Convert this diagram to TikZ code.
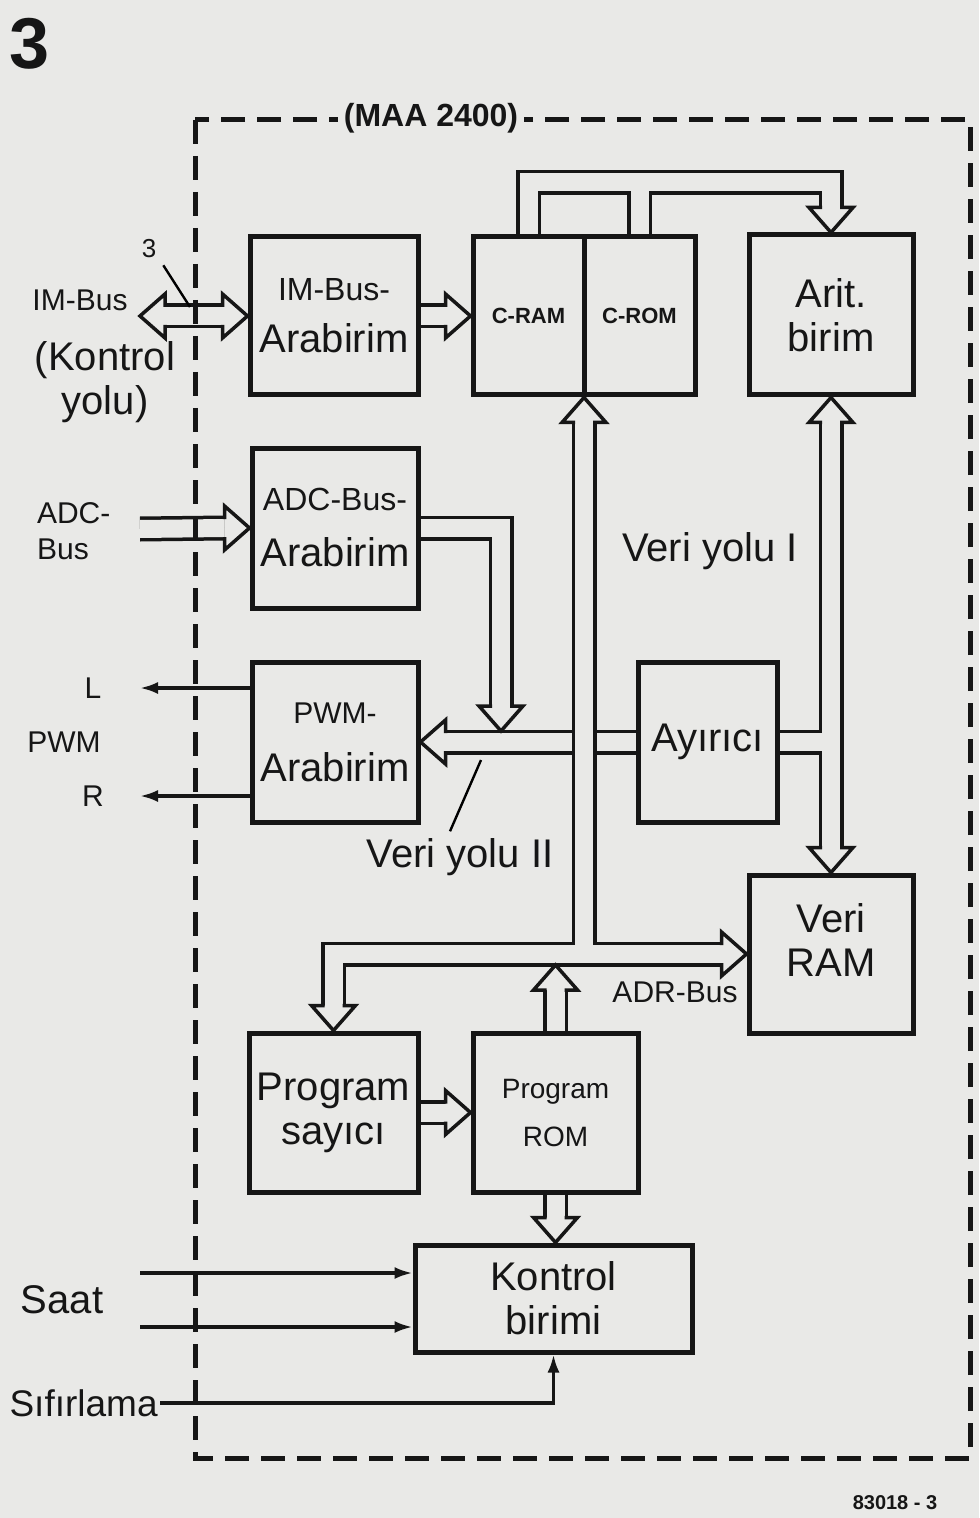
\documentclass[tikz,border=0pt]{standalone}
\usepackage{fontspec}
\setmainfont{Liberation Sans}
\usetikzlibrary{arrows.meta, calc, math}

\pgfdeclarelayer{back}
\pgfdeclarelayer{bus}
\pgfsetlayers{back,bus,main}

\definecolor{paper}{RGB}{233,233,231}
\definecolor{ink}{RGB}{22,22,22}

% double line bus: black outer, paper core
\newcommand{\bus}[1]{\draw[busout] #1; \draw[busin] #1;}

\tikzset{
  blok/.style={draw=ink, line width=2.5pt, align=center, inner sep=0pt},
  busout/.style={draw=ink, line width=12.5pt},
  busin/.style={draw=paper, line width=9pt},
  busline/.style={draw=ink, line width=1.75pt, line join=miter},
  bushead/.pic={
    \fill[paper] (0,0) -- (-25,22) -- (-25,-22) -- cycle;
    \draw[busline] (-25,9) -- (-25,22) -- (0,0) -- (-25,-22) -- (-25,-9);
  },
  sig/.style={draw=ink, line width=1.6pt, -{Latex[length=9pt, width=6pt]}},
  frame/.style={draw=ink, line width=2.5pt, dash pattern=on 12pt off 6pt},
  small/.style={font=\fontsize{15}{18}\selectfont},
}

\begin{document}
\begin{tikzpicture}[x=0.5pt, y=-0.5pt, font=\fontsize{20}{22}\selectfont, text=ink]
\useasboundingbox (0,0) rectangle (979,1518);
\begin{pgfonlayer}{back}
\fill[paper] (0,0) rectangle (979,1518);
\end{pgfonlayer}

% blocks
\node[blok, minimum width=84pt, minimum height=79pt] (imbus) at (334,316)
  {{\fontsize{16}{18}\selectfont IM-Bus-}\\[4pt]Arabirim};
\node[blok, minimum width=55.5pt, minimum height=79pt,
  font=\bfseries\fontsize{11}{13}\selectfont] (cram) at (528.5,316) {C-RAM};
\node[blok, minimum width=55.5pt, minimum height=79pt,
  font=\bfseries\fontsize{11}{13}\selectfont] (crom) at (639.5,316) {C-ROM};
\node[blok, minimum width=82pt, minimum height=80pt] (arit) at (831,315) {Arit.\\birim};
\node[blok, minimum width=83pt, minimum height=80pt] (adcbus) at (335,528)
  {{\fontsize{16}{18}\selectfont ADC-Bus-}\\[6pt]Arabirim};
\node[blok, minimum width=83pt, minimum height=80pt] (pwm) at (335,742)
  {{\fontsize{15}{18}\selectfont PWM-}\\[7pt]Arabirim};
\node[blok, minimum width=69.5pt, minimum height=80pt] (ayirici) at (707.5,742) {Ayırıcı};
\node[blok, minimum width=82pt, minimum height=79pt, text depth=14pt] (veriram) at (831,954) {Veri\\RAM};
\node[blok, minimum width=84.5pt, minimum height=79.5pt] (psay) at (333.5,1112.5) {Program\\sayıcı};
\node[blok, minimum width=82.5pt, minimum height=79.5pt,
  font=\fontsize{14}{17}\selectfont] (prom) at (555.5,1112.5) {Program\\[7pt]ROM};
\node[blok, minimum width=138.5pt, minimum height=53.5pt] (kontrol) at (553.5,1298.5) {Kontrol\\birimi};

% outside
\draw[frame] (195,120) rectangle (970,1458);
\node[fill=paper, inner sep=3pt, font=\bfseries\fontsize{16}{18}\selectfont] (maa) at (431,118) {(MAA 2400)};
\node[font=\bfseries\fontsize{36}{40}\selectfont] (nr) at (30,44) {3};
\node[font=\bfseries\fontsize{10}{12}\selectfont] (kod) at (895,1503) {83018 - 3};

\node[small] (imtxt) at (80,300) {IM-Bus};
\node[align=center] (kytxt) at (105,382) {(Kontrol\\yolu)};
\node[small, align=left, anchor=west] (adctxt) at (30,531) {ADC-\\Bus};
\node[small] (ltxt) at (93,688) {L};
\node[small] (pwmtxt) at (64,742) {PWM};
\node[small] (rtxt) at (93,796) {R};
\node (saat) at (62,1300) {Saat};
\node[anchor=east, inner sep=1pt, font=\fontsize{18.5}{20}\selectfont] (sifir) at (160,1403) {Sıfırlama};
\node (vy1) at (710,551) {Veri yolu I};
\node (vy2) at (460,857) {Veri yolu II};
\node[small] (adrtxt) at (675,992) {ADR-Bus};
\node[font=\fontsize{13}{15}\selectfont] (uc) at (149,249) {3};

\coordinate (imext) at (140,316);
\coordinate (adcext) at (140,529);
\coordinate (adcin) at (501,731);
\coordinate (lout) at (140,688);
\coordinate (rout) at (140,796);
\coordinate (clk1) at (140,1273);
\coordinate (clk2) at (140,1327);
\coordinate (ucend) at (190,307);
\coordinate (vy2end) at (481,760);

% signal lines
\draw[sig] (pwm.west |- lout) -- (lout);
\draw[sig] (pwm.west |- rout) -- (rout);
\draw[sig] (clk1) -- (clk1 -| kontrol.west);
\draw[sig] (clk2) -- (clk2 -| kontrol.west);
\draw[sig] (sifir.east) -| (kontrol.south);
\draw[line width=1.2pt] (uc.south east) -- (ucend);
\draw[line width=1.2pt] ($(vy2.north)+(-10,0)$) -- (vy2end);

\begin{pgfonlayer}{bus}
% IM-Bus
\bus{($(imext)+(25,0)$) -- ($(imbus.west)+(-25,0)$)}
\pic[rotate=180] at (imext) {bushead};
\pic at (imbus.west) {bushead};
\bus{(imbus.east) -- ($(cram.west)+(-25,0)$)}
\pic at (cram.west) {bushead};
% C-RAM / C-ROM to Arit.
\bus{(cram.north) -- ++(0,-52) -| ($(arit.north)+(0,-25)$) (crom.north) -- ++(0,-52)}
\pic[rotate=-90] at (arit.north) {bushead};
% Veri yolu II
\bus{(ayirici.west) -- ($(pwm.east)+(25,0)$)}
\pic[rotate=180] at (pwm.east) {bushead};
\bus{(adcbus.east) -| ($(adcin)+(0,-25)$)}
\pic[rotate=-90] at (adcin) {bushead};
% Veri yolu I and ADR-Bus
\coordinate (dv) at ($(cram.south)!0.5!(crom.south)$);
\bus{($(dv)+(0,25)$) -- (dv |- veriram.west) ($(psay.north)+(0,-25)$) |- ($(veriram.west)+(-25,0)$)}
\pic[rotate=90] at (dv) {bushead};
\pic at (veriram.west) {bushead};
\pic[rotate=-90] at (psay.north) {bushead};
\coordinate (adrin) at ($(prom.north |- veriram.west)+(0,11)$);
\bus{(prom.north) -- ($(adrin)+(0,25)$)}
\pic[rotate=90] at (adrin) {bushead};
% Arit. <-> Veri RAM
\bus{($(arit.south)+(0,25)$) -- ($(veriram.north)+(0,-25)$) (ayirici.east) -- (ayirici.east -| arit.south)}
\pic[rotate=90] at (arit.south) {bushead};
\pic[rotate=-90] at (veriram.north) {bushead};
% ADC-Bus, program
\bus{(adcext) -- ($(adcbus.west)+(-25,0)$)}
\pic at (adcbus.west) {bushead};
\bus{(psay.east) -- ($(prom.west)+(-25,0)$)}
\pic at (prom.west) {bushead};
\bus{(prom.south) -- ($(prom.south |- kontrol.north)+(0,-25)$)}
\pic[rotate=-90] at (prom.south |- kontrol.north) {bushead};
\end{pgfonlayer}

\end{tikzpicture}
\end{document}
